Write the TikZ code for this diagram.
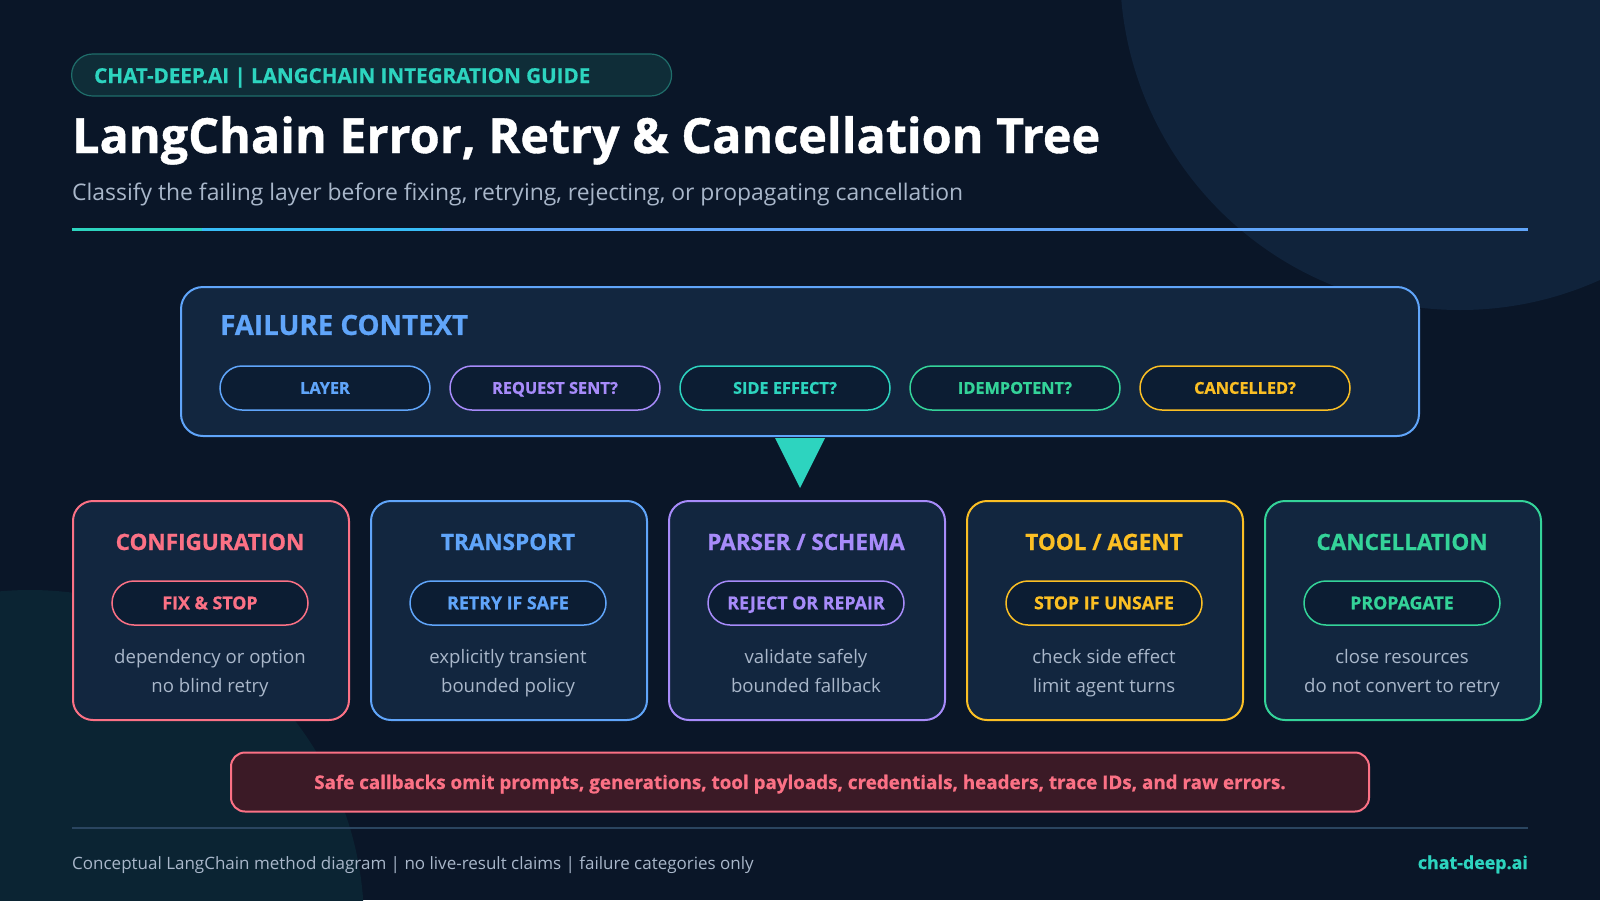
\documentclass[tikz,border=0pt]{standalone}
\usepackage{fontspec}
\setmainfont{Open Sans}
\newfontfamily\heavyfont[FakeBold=0.8]{Open Sans}
\usetikzlibrary{positioning}
\definecolor{bgnavy}{HTML}{0A1628}
\definecolor{blobtop}{HTML}{10233B}
\definecolor{blobbot}{HTML}{0B2433}
\definecolor{cardfill}{HTML}{12263F}
\definecolor{pillfill}{HTML}{0C1D33}
\definecolor{tagfill}{HTML}{0F2D38}
\definecolor{tagline}{HTML}{1F6D6A}
\definecolor{mutedtxt}{HTML}{A9B7CA}
\definecolor{ruleline}{HTML}{2A4560}
\definecolor{tealc}{HTML}{2DD4BF}
\definecolor{skyc}{HTML}{38BDF8}
\definecolor{bluec}{HTML}{60A5FA}
\definecolor{purplec}{HTML}{A78BFA}
\definecolor{greenc}{HTML}{34D399}
\definecolor{amberc}{HTML}{FBBF24}
\definecolor{redc}{HTML}{FB7185}
\definecolor{warnfill}{HTML}{3B1A26}
\begin{document}
\begin{tikzpicture}[x=1pt,y=-1pt,
  card/.style={draw,line width=2pt,fill=cardfill,rounded corners=20pt,
    minimum width=276pt,minimum height=219pt,anchor=north west,inner sep=0pt},
  cardtitle/.style={anchor=base,inner sep=0pt,font=\fontsize{22.5}{22.5}\heavyfont\bfseries},
  ctxpill/.style={draw,line width=1.5pt,fill=pillfill,rounded corners=22pt,
    minimum width=210pt,minimum height=44pt,inner sep=0pt,
    text height=11.5pt,text depth=0pt,
    font=\fontsize{16.3}{16.3}\heavyfont\bfseries},
  actpill/.style={draw,line width=1.5pt,fill=pillfill,rounded corners=22pt,
    minimum width=196pt,minimum height=44pt,inner sep=0pt,
    text height=12.5pt,text depth=0pt,
    font=\fontsize{17.8}{17.8}\heavyfont\bfseries},
  cardbody/.style={text=mutedtxt,anchor=base,inner sep=0pt,
    font=\fontsize{18.6}{18.6}\selectfont}]
\useasboundingbox (0,0) rectangle (1600,900);
\fill[bgnavy] (0,0) rectangle (1600,900);
\begin{scope}
\clip (0,0) rectangle (1600,900);
\fill[blobtop] (1460,-30) circle [radius=340];
\fill[blobbot] (30,924) circle [radius=334];
\end{scope}

% header
\node[draw=tagline,line width=1.2pt,fill=tagfill,rounded corners=21pt,
  minimum width=600pt,minimum height=42pt,anchor=west] (tag) at (71,75) {};
\node[text=tealc,anchor=base west,inner sep=0pt,font=\fontsize{20.6}{20.6}\heavyfont\bfseries]
  (tagtext) at (94,83) {CHAT-DEEP.AI | LANGCHAIN INTEGRATION GUIDE};
\node[text=white,anchor=base west,inner sep=0pt,font=\fontsize{48.5}{48.5}\heavyfont\bfseries]
  (title) at (72,153) {LangChain Error, Retry \& Cancellation Tree};
\node[text=mutedtxt,anchor=base west,inner sep=0pt,font=\fontsize{22.9}{23}\selectfont]
  (subtitle) at (72,200) {Classify the failing layer before fixing, retrying, rejecting, or propagating cancellation};
\fill[tealc] (72,228) rectangle (202,231);
\fill[skyc] (202,228) rectangle (442,231);
\fill[bluec] (442,228) rectangle (1528,231);

% failure context
\node[draw=bluec,line width=2pt,fill=cardfill,rounded corners=22pt,
  minimum width=1238pt,minimum height=149pt,anchor=north west] (ctx) at (180,286) {};
\node[text=bluec,anchor=west,inner sep=0pt,font=\fontsize{27.7}{27.7}\heavyfont\bfseries]
  (ctxtitle) at (220,325) {FAILURE CONTEXT};
\node[ctxpill,draw=bluec,text=bluec] (layer) at (325,388) {LAYER};
\node[ctxpill,draw=purplec,text=purplec] (sent) at (555,388) {REQUEST SENT?};
\node[ctxpill,draw=tealc,text=tealc] (effect) at (785,388) {SIDE EFFECT?};
\node[ctxpill,draw=greenc,text=greenc] (idem) at (1015,388) {IDEMPOTENT?};
\node[ctxpill,draw=amberc,text=amberc] (cancelq) at (1245,388) {CANCELLED?};
\fill[tealc] ([xshift=-25pt,yshift=-1pt]ctx.south) -- ([xshift=25pt,yshift=-1pt]ctx.south)
  -- ([yshift=-51pt]ctx.south) -- cycle;

% layer cards
\node[card,draw=redc] (config) at (72,500) {};
\node[cardtitle,text=redc] at (210,550) {CONFIGURATION};
\node[actpill,draw=redc,text=redc] (configact) at (210,603) {FIX \& STOP};
\node[cardbody] at (210,663) {dependency or option};
\node[cardbody] at (210,692) {no blind retry};

\node[card,draw=bluec] (transport) at (370,500) {};
\node[cardtitle,text=bluec] at (508,550) {TRANSPORT};
\node[actpill,draw=bluec,text=bluec] (transportact) at (508,603) {RETRY IF SAFE};
\node[cardbody] at (508,663) {explicitly transient};
\node[cardbody] at (508,692) {bounded policy};

\node[card,draw=purplec] (parser) at (668,500) {};
\node[cardtitle,text=purplec] at (806,550) {PARSER / SCHEMA};
\node[actpill,draw=purplec,text=purplec] (parseract) at (806,603) {REJECT OR REPAIR};
\node[cardbody] at (806,663) {validate safely};
\node[cardbody] at (806,692) {bounded fallback};

\node[card,draw=amberc] (tool) at (966,500) {};
\node[cardtitle,text=amberc] at (1104,550) {TOOL / AGENT};
\node[actpill,draw=amberc,text=amberc] (toolact) at (1104,603) {STOP IF UNSAFE};
\node[cardbody] at (1104,663) {check side effect};
\node[cardbody] at (1104,692) {limit agent turns};

\node[card,draw=greenc] (cancel) at (1264,500) {};
\node[cardtitle,text=greenc] at (1402,550) {CANCELLATION};
\node[actpill,draw=greenc,text=greenc] (cancelact) at (1402,603) {PROPAGATE};
\node[cardbody] at (1402,663) {close resources};
\node[cardbody] at (1402,692) {do not convert to retry};

% warning + footer
\node[draw=redc,line width=2pt,fill=warnfill,rounded corners=14pt,
  minimum width=1138pt,minimum height=59pt] (warn) at (800,782) {};
\node[text=redc,anchor=base,inner sep=0pt,font=\fontsize{18.8}{18.8}\heavyfont\bfseries]
  (warntext) at (800,789)
  {Safe callbacks omit prompts, generations, tool payloads, credentials, headers, trace IDs, and raw errors.};
\draw[ruleline,line width=2pt] (72,828) -- (1528,828);
\node[text=mutedtxt,anchor=base west,inner sep=0pt,font=\fontsize{17}{17}\selectfont]
  (foot) at (72,869) {Conceptual LangChain method diagram | no live-result claims | failure categories only};
\node[text=tealc,anchor=base east,inner sep=0pt,font=\fontsize{17.8}{17.8}\heavyfont\bfseries]
  (site) at (1528,869) {chat-deep.ai};
\end{tikzpicture}
\end{document}
